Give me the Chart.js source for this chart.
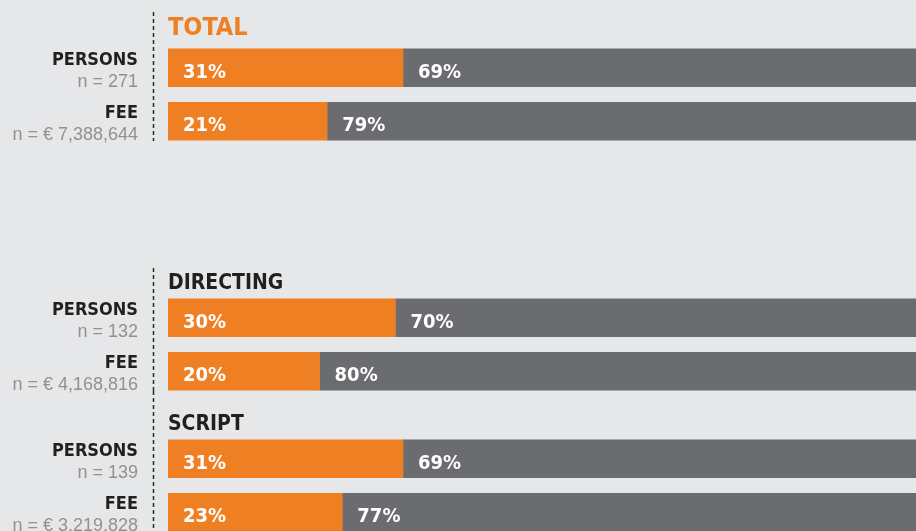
<!DOCTYPE html>
<html>
<head>
<meta charset="utf-8">
<script src="https://cdn.jsdelivr.net/npm/chart.js@4/dist/chart.umd.min.js"></script>
<style>
  html, body { margin: 0; padding: 0; }
  body { width: 916px; height: 531px; overflow: hidden; background: #e6e7e9; position: relative; }
  .sec { position: absolute; left: 0; width: 926px; height: 150px; }
</style>
</head>
<body>
<div class="sec" style="top:0px"><canvas id="c0" width="926" height="150"></canvas></div>
<div class="sec" style="top:250px"><canvas id="c1" width="926" height="150"></canvas></div>
<div class="sec" style="top:391px"><canvas id="c2" width="926" height="150"></canvas></div>
<script>
// values
const titles = ["TOTAL", "DIRECTING", "SCRIPT"];
const rows = ["PERSONS", "FEE"];
const counts = [
  ["n = 271", "n = € 7,388,644"],
  ["n = 132", "n = € 4,168,816"],
  ["n = 139", "n = € 3,219,828"]
];
const orangePct = [[31, 21], [30, 20], [31, 23]];
const greyPct = [[69, 79], [70, 80], [69, 77]];

const ORANGE = "#ee8023";
const GREY = "#6b6c70";
const BOLD = "'DejaVu Sans Condensed', 'Liberation Sans Narrow', sans-serif";

const sectionPlugin = {
  id: "section",
  afterDatasetsDraw(chart, args, opts) {
    const ctx = chart.ctx;
    const ys = chart.scales.y;
    const i = opts.index;
    ctx.save();

    // dashed divider
    ctx.strokeStyle = "#2a2a2a";
    ctx.lineWidth = 1.5;
    ctx.setLineDash([4, 3]);
    ctx.beginPath();
    ctx.moveTo(153.5, opts.lineTop);
    ctx.lineTo(153.5, opts.lineBottom);
    ctx.stroke();
    ctx.setLineDash([]);

    // section title
    ctx.textAlign = "left";
    ctx.textBaseline = "alphabetic";
    ctx.fillStyle = i === 0 ? ORANGE : "#231f20";
    ctx.font = "bold " + (i === 0 ? 25 : 21) + "px " + BOLD;
    ctx.fillText(titles[i], chart.chartArea.left, opts.titleY);

    // row labels
    ctx.textAlign = "right";
    rows.forEach((r, k) => {
      const cy = ys.getPixelForValue(k);
      ctx.fillStyle = "#231f20";
      ctx.font = "bold 18px " + BOLD;
      ctx.fillText(r, 138, cy - 3);
      ctx.fillStyle = "#919191";
      ctx.font = "18px 'Liberation Sans', Arial, sans-serif";
      ctx.fillText(counts[i][k], 138, cy + 19);
    });

    // value labels inside the bars
    ctx.textAlign = "left";
    ctx.fillStyle = "#ffffff";
    ctx.font = "bold 20px " + BOLD;
    chart.data.datasets.forEach((ds, d) => {
      chart.getDatasetMeta(d).data.forEach((bar, k) => {
        const p = bar.getProps(["x", "y", "base"], true);
        ctx.fillText(ds.data[k] + "%", Math.min(p.x, p.base) + 15, p.y + 10);
      });
    });
    ctx.restore();
  }
};

const lines = [[12, 141], [18, 141], [0, 150]];
const titleY = [35, 39, 39];

titles.forEach((t, i) => {
  new Chart(document.getElementById("c" + i), {
    type: "bar",
    data: {
      labels: rows,
      datasets: [
        { label: "orange", data: orangePct[i], backgroundColor: ORANGE, barThickness: 38 },
        { label: "grey", data: greyPct[i], backgroundColor: GREY, barThickness: 38 }
      ]
    },
    options: {
      indexAxis: "y",
      responsive: false,
      animation: false,
      layout: { padding: { left: 168, top: 41, bottom: 2, right: 0 } },
      scales: {
        x: { stacked: true, min: 0, max: 100, display: false },
        y: { stacked: true, display: false }
      },
      plugins: {
        legend: { display: false },
        tooltip: { enabled: false },
        section: { index: i, lineTop: lines[i][0], lineBottom: lines[i][1], titleY: titleY[i] }
      }
    },
    plugins: [sectionPlugin]
  });
});
</script>
</body>
</html>
